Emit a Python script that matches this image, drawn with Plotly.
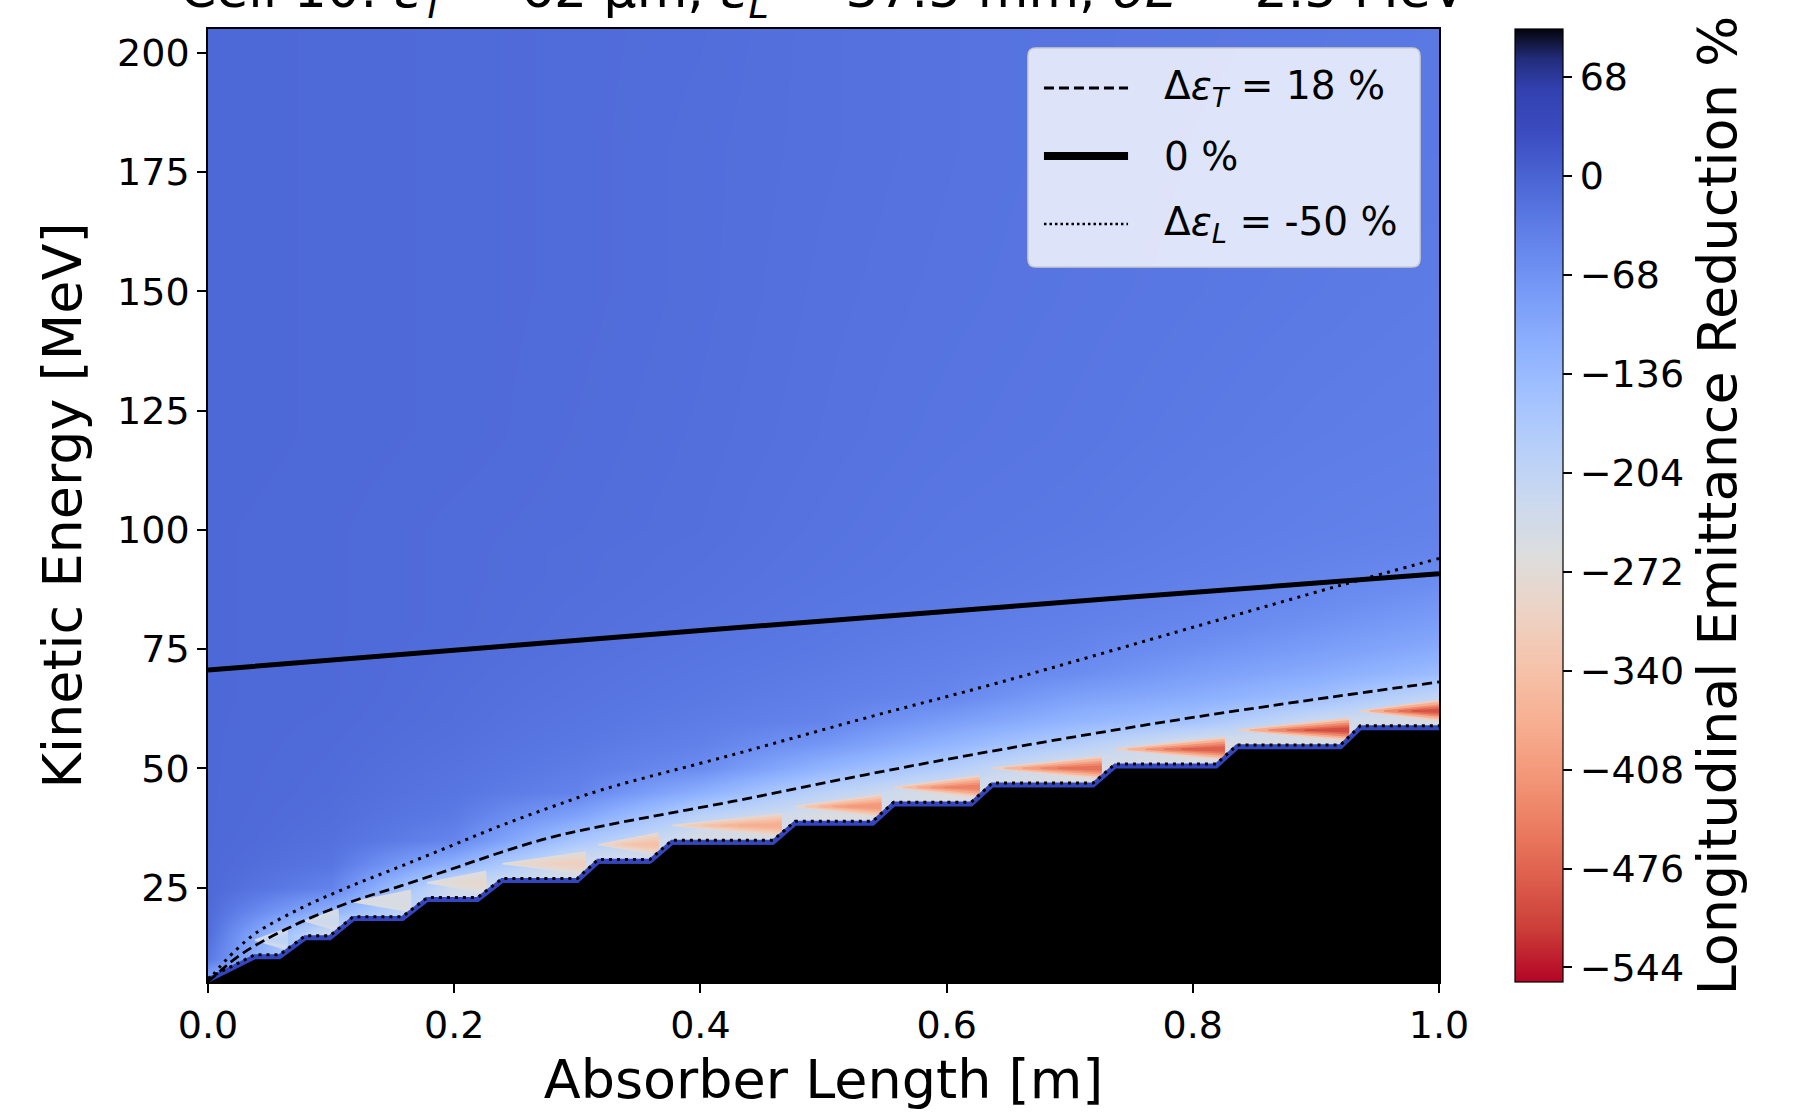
import plotly.graph_objects as go

# ---------------------------------------------------------------------------
# Emittance map: absorber length [m] x kinetic energy [MeV]
# ---------------------------------------------------------------------------
LENGTHS = [0.0, 0.1, 0.2, 0.3, 0.4, 0.5, 0.6, 0.7, 0.8, 0.9, 1.0]
ENERGIES = [5, 10, 15, 20, 25, 30, 35, 40, 45, 50, 55, 60, 65, 70, 75, 80,
            85, 90, 95, 100, 120, 150, 180, 205]

# longitudinal emittance reduction [%], one row per energy, one column per length
DEL_L = [
    [-120, -250, -250, -250, -250, -250, -250, -250, -250, -250, -250],  # 5
    [-30, -250, -250, -250, -250, -250, -250, -250, -250, -250, -250],   # 10
    [-14, -240, -250, -250, -250, -250, -250, -250, -250, -250, -250],   # 15
    [-10, -120, -250, -250, -250, -250, -250, -250, -250, -250, -250],   # 20
    [-8, -45, -230, -250, -250, -250, -250, -250, -250, -250, -250],     # 25
    [-8, -25, -120, -245, -255, -255, -255, -255, -255, -255, -255],     # 30
    [-7, -18, -48, -160, -255, -255, -255, -255, -255, -255, -255],      # 35
    [-7, -15, -32, -95, -195, -255, -255, -255, -255, -255, -255],       # 40
    [-7, -13, -25, -45, -115, -195, -255, -255, -255, -255, -255],       # 45
    [-7, -12, -21, -35, -58, -125, -180, -255, -255, -255, -255],        # 50
    [-7, -11, -18, -29, -42, -75, -125, -180, -250, -255, -255],         # 55
    [-7, -10, -16, -25, -35, -46, -85, -125, -155, -225, -255],          # 60
    [-7, -9, -15, -22, -30, -39, -50, -90, -112, -145, -210],            # 65
    [-7, -9, -14, -20, -27, -34, -43, -58, -85, -108, -140],             # 70
    [-7, -9, -13, -18, -24, -30, -38, -46, -65, -85, -108],              # 75
    [-7, -9, -12, -17, -22, -28, -34, -41, -50, -68, -88],               # 80
    [-7, -9, -12, -16, -20, -26, -31, -37, -44, -55, -72],               # 85
    [-7, -9, -12, -15, -19, -24, -29, -34, -40, -47, -58],               # 90
    [-7, -9, -12, -15, -18, -23, -28, -32, -37, -43, -48],               # 95
    [-7, -9, -12, -14, -17, -22, -27, -30, -35, -40, -44],               # 100
    [-6, -8, -10, -13, -16, -20, -24, -27, -31, -35, -38],               # 120
    [-6, -8, -10, -12, -15, -19, -22, -25, -28, -31, -34],               # 150
    [-6, -8, -10, -12, -15, -18, -21, -24, -27, -29, -31],               # 180
    [-6, -8, -10, -12, -14, -18, -21, -24, -26, -28, -30],               # 205
]

# stopped-beam region: energy ledges of the staircase boundary
STEP_START = [0.038, 0.079, 0.118, 0.178, 0.239, 0.317, 0.377, 0.477, 0.557,
              0.637, 0.737, 0.836, 0.936]
STEP_END = [0.058, 0.099, 0.158, 0.219, 0.300, 0.359, 0.459, 0.540, 0.620,
            0.719, 0.819, 0.920, 1.0]
STEP_E = [10.1, 14.1, 18.1, 22.1, 26.1, 30.1, 34.1, 38.1, 42.1, 46.1, 50.1,
          54.1, 58.1]
ORIGIN_E = 5.2

# strongest heating just above each ledge [%]
LEDGE_PEAK = [-200, -225, -250, -280, -305, -340, -375, -410, -440, -460,
              -480, -500, -495]

# transverse emittance reduction = 18 % contour
DT18_X = [0.0, 0.01, 0.02, 0.038, 0.075, 0.115, 0.156, 0.197, 0.237, 0.278,
          0.32, 0.427, 0.535, 0.65, 0.806, 1.0]
DT18_E = [5.3, 7.5, 9.7, 12.8, 17.7, 21.9, 25.3, 28.8, 32.3, 35.5, 37.9,
          43.1, 48.7, 54.2, 60.9, 68.1]

# transverse emittance reduction = 0 % contour
DT0_X = [0.0, 0.25, 0.5, 0.75, 1.0]
DT0_E = [70.6, 75.8, 80.9, 85.9, 90.8]

# longitudinal emittance reduction = -50 % contour
DL50_X = [0.0, 0.01, 0.02, 0.038, 0.075, 0.115, 0.156, 0.197, 0.237, 0.278,
          0.32, 0.427, 0.535, 0.643, 0.806, 0.919, 1.0]
DL50_E = [5.4, 8.5, 11.2, 15.3, 20.6, 25.2, 29.4, 33.7, 37.9, 41.8, 45.5,
          52.9, 60.6, 68.0, 80.0, 88.3, 94.0]

CB_TICKS = [68, 0, -68, -136, -204, -272, -340, -408, -476, -544]
Z_MIN, Z_MAX = -554, 101

# ---------------------------------------------------------------------------
# colour scale: coolwarm (reversed) running into black for the largest values
# ---------------------------------------------------------------------------
CB_STOPS = [
    (-554, (180, 4, 38)), (-517.5, (203, 62, 56)), (-481, (222, 96, 77)),
    (-444.5, (236, 127, 99)), (-408, (244, 154, 123)), (-371.5, (247, 177, 148)),
    (-335, (245, 196, 172)), (-298.5, (236, 211, 197)), (-262, (221, 221, 221)),
    (-225.5, (204, 217, 238)), (-189, (184, 208, 249)), (-152.5, (163, 194, 255)),
    (-116, (141, 176, 254)), (-79.5, (119, 154, 247)), (-43, (98, 130, 234)),
    (-6.5, (77, 104, 215)), (30, (59, 76, 192)), (60, (50, 65, 175)),
    (80, (35, 45, 125)), (92, (18, 22, 60)), (101, (3, 3, 12)),
]
COLORSCALE = [[(v - Z_MIN) / (Z_MAX - Z_MIN), "rgb(%d,%d,%d)" % c] for v, c in CB_STOPS]


def value_colour(v):
    v = max(Z_MIN, min(Z_MAX, v))
    for (v0, c0), (v1, c1) in zip(CB_STOPS[:-1], CB_STOPS[1:]):
        if v0 <= v <= v1:
            f = (v - v0) / (v1 - v0)
            return "rgb(%d,%d,%d)" % tuple(round(a + f * (b - a)) for a, b in zip(c0, c1))
    return "rgb(%d,%d,%d)" % CB_STOPS[-1][1]


FONT = "DejaVu Sans"
fig = go.Figure()

fig.add_trace(go.Heatmap(
    x=LENGTHS, y=ENERGIES, z=DEL_L, zmin=Z_MIN, zmax=Z_MAX,
    colorscale=COLORSCALE, zsmooth="best", hoverinfo="skip",
    colorbar=dict(
        x=1.0617, xanchor="left", xref="paper", y=0.5, yanchor="middle",
        len=1, lenmode="fraction", thickness=48, xpad=0, ypad=0,
        outlinecolor="black", outlinewidth=1.2,
        tickvals=CB_TICKS, ticks="outside", ticklen=9, tickwidth=1.5,
        tickcolor="black", tickfont=dict(family=FONT, size=38, color="black"),
        title=dict(text="Longitudinal Emittance Reduction %", side="right",
                   font=dict(family=FONT, size=54, color="black")),
    ),
))

# heating streaks sitting on top of each ledge, built up from soft to strong shades
WEDGE_LAYERS = [  # (start along ledge, half height [MeV], share of peak)
    (0.0, 2.6, 0.25), (0.12, 2.15, 0.5), (0.3, 1.6, 0.72), (0.48, 1.1, 0.88), (0.65, 0.6, 1.0),
]
for xs, xe, e, peak in zip(STEP_START, STEP_END, STEP_E, LEDGE_PEAK):
    span = xe - xs
    centre = e + 3.9
    right = xe + 0.007
    for frac, half, share in WEDGE_LAYERS:
        level = -255 + share * (peak + 255)
        tip = xs + frac * span
        fig.add_trace(go.Scatter(
            x=[tip, right, right, tip],
            y=[centre + 0.15, centre + half, centre - half * 0.85, centre - 0.15],
            mode="lines", fill="toself", fillcolor=value_colour(level),
            line=dict(width=0), hoverinfo="skip", showlegend=False,
        ))

# staircase boundary of the stopped-beam region
stair_x, stair_e = [0.0], [ORIGIN_E]
for xs, xe, e in zip(STEP_START, STEP_END, STEP_E):
    stair_x += [xs, xe]
    stair_e += [e, e]

fig.add_trace(go.Scatter(
    x=stair_x + [1.0, 0.0], y=stair_e + [0.0, 0.0], mode="lines",
    fill="toself", fillcolor="black", line=dict(width=0),
    hoverinfo="skip", showlegend=False,
))
fig.add_trace(go.Scatter(
    x=stair_x, y=[v + 0.4 for v in stair_e], mode="lines",
    line=dict(color="rgb(52,70,190)", width=5),
    hoverinfo="skip", showlegend=False,
))
fig.add_trace(go.Scatter(
    x=stair_x, y=[v + 0.8 for v in stair_e], mode="lines",
    line=dict(color="black", width=3, dash="3px,5px"),
    hoverinfo="skip", showlegend=False,
))

# contour lines
fig.add_trace(go.Scatter(
    x=DL50_X, y=DL50_E, mode="lines", line_shape="spline",
    line=dict(color="black", width=3, dash="3px,5.5px"),
    hoverinfo="skip", showlegend=False,
))
fig.add_trace(go.Scatter(
    x=DT18_X, y=DT18_E, mode="lines", line_shape="spline",
    line=dict(color="black", width=2.8, dash="10px,5px"),
    hoverinfo="skip", showlegend=False,
))
fig.add_trace(go.Scatter(
    x=DT0_X, y=DT0_E, mode="lines", line_shape="spline",
    line=dict(color="black", width=5),
    hoverinfo="skip", showlegend=False,
))

# ---------------------------------------------------------------------------
# legend box (paper coordinates of the plotting area)
# ---------------------------------------------------------------------------
LEGEND_LABELS = [
    "Δ<i>ε</i><sub><i>T</i></sub> = 18 %",
    "0 %",
    "Δ<i>ε</i><sub><i>L</i></sub> = -50 %",
]
LEGEND_STYLES = [
    dict(color="black", width=2.8, dash="10px,5px"),
    dict(color="black", width=8),
    dict(color="black", width=2.5, dash="2.5px,3px"),
]
box_x0, box_x1, box_y0, box_y1 = 0.6661, 0.9846, 0.7503, 0.9801
rx, ry = 0.0065, 0.0084
box_path = (
    f"M{box_x0 + rx},{box_y0} L{box_x1 - rx},{box_y0} Q{box_x1},{box_y0} {box_x1},{box_y0 + ry} "
    f"L{box_x1},{box_y1 - ry} Q{box_x1},{box_y1} {box_x1 - rx},{box_y1} "
    f"L{box_x0 + rx},{box_y1} Q{box_x0},{box_y1} {box_x0},{box_y1 - ry} "
    f"L{box_x0},{box_y0 + ry} Q{box_x0},{box_y0} {box_x0 + rx},{box_y0} Z"
)
shapes = [dict(type="path", xref="paper", yref="paper", path=box_path,
               fillcolor="rgba(255,255,255,0.8)", line=dict(color="rgb(204,204,204)", width=1.5),
               layer="above")]
annotations = []
row_y = [0.9381, 0.8667, 0.7954]
for label, style, ry_ in zip(LEGEND_LABELS, LEGEND_STYLES, row_y):
    shapes.append(dict(type="line", xref="paper", yref="paper", x0=0.6791, x1=0.7474,
                       y0=ry_, y1=ry_, line=style, layer="above"))
    annotations.append(dict(text=label, xref="paper", yref="paper", x=0.775, y=ry_,
                            xanchor="left", yanchor="middle", showarrow=False,
                            font=dict(family=FONT, size=39, color="black")))

annotations.append(dict(
    text="Cell 10: <i>ε</i><sub><i>T</i></sub> = 62 μm, <i>ε</i><sub><i>L</i></sub> = 37.5 mm, <i>σE</i> = 2.5 MeV",
    xref="paper", yref="paper", x=0.5, y=1.0, xanchor="center", yanchor="bottom",
    showarrow=False, font=dict(family=FONT, size=52, color="black"),
))

axis_common = dict(
    showline=True, linecolor="black", linewidth=1.5, mirror=True,
    ticks="outside", ticklen=9, tickwidth=1.5, tickcolor="black",
    tickfont=dict(family=FONT, size=38, color="black"),
    showgrid=False, zeroline=False,
)

fig.update_layout(
    width=1795, height=1116, autosize=False,
    margin=dict(l=208, r=356, t=29, b=134),
    paper_bgcolor="white", plot_bgcolor="white",
    font=dict(family=FONT, color="black"),
    showlegend=False,
    xaxis=dict(range=[0, 1], tickvals=[0, 0.2, 0.4, 0.6, 0.8, 1.0],
               tickformat=".1f",
               title=dict(text="Absorber Length [m]", standoff=14,
                          font=dict(family=FONT, size=54, color="black")),
               **axis_common),
    yaxis=dict(range=[ORIGIN_E, 205], tickvals=[25, 50, 75, 100, 125, 150, 175, 200],
               title=dict(text="Kinetic Energy [MeV]", standoff=18,
                          font=dict(family=FONT, size=54, color="black")),
               **axis_common),
    shapes=shapes,
    annotations=annotations,
)

fig.write_html("out.html")
